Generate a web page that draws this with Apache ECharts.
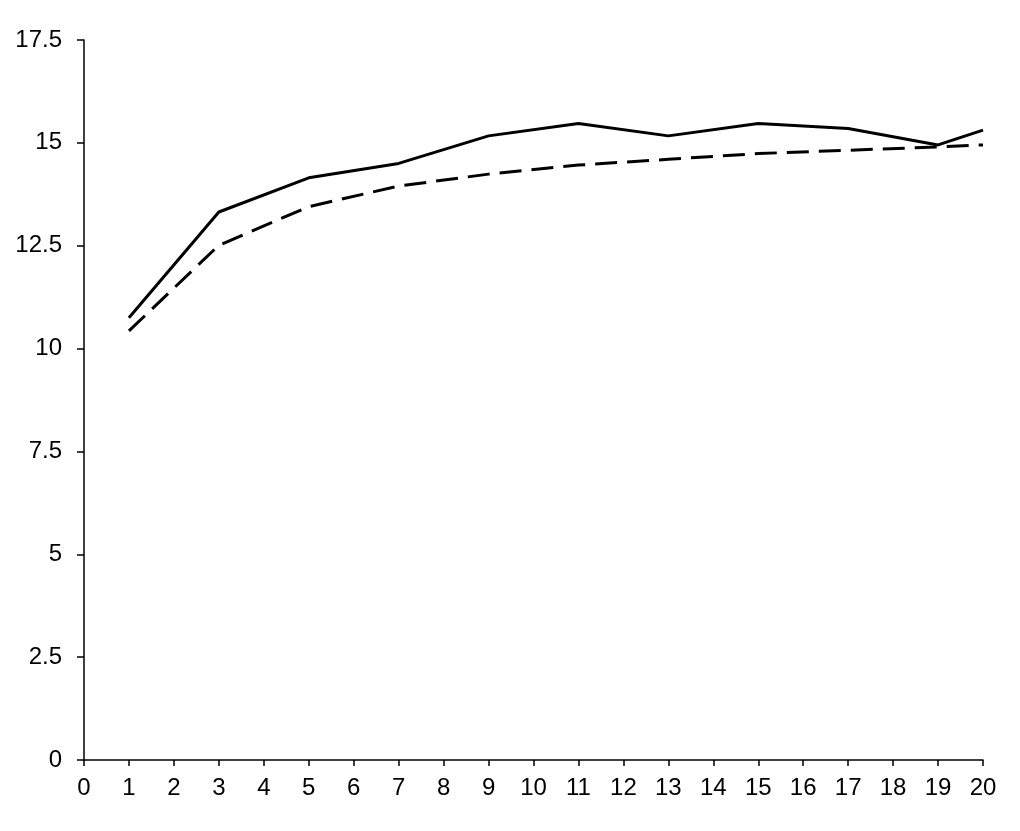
<!DOCTYPE html>
<html>
<head>
<meta charset="utf-8">
<script src="https://cdn.jsdelivr.net/npm/echarts@6/dist/echarts.min.js"></script>
<style>
html,body{margin:0;padding:0;background:#fff;}
#chart{width:1020px;height:831px;}
</style>
</head>
<body>
<div id="chart"></div>
<script>
const xValues = [1, 3, 5, 7, 9, 11, 13, 15, 17, 19, 20];
const solidValues = [10.75, 13.32, 14.15, 14.5, 15.17, 15.47, 15.17, 15.47, 15.35, 14.95, 15.31];
const dashedValues = [10.43, 12.51, 13.45, 13.95, 14.24, 14.46, 14.6, 14.74, 14.82, 14.9, 14.95];

const pairs = (ys) => xValues.map((x, i) => [x, ys[i]]);

const chart = echarts.init(document.getElementById('chart'), null, {renderer: 'canvas'});
const labelStyle = {color: '#000', fontFamily: 'Liberation Sans, Arial, sans-serif', fontSize: 24};
chart.setOption({
  animation: false,
  backgroundColor: '#fff',
  grid: {left: 84, right: 37, top: 40, bottom: 71, containLabel: false},
  xAxis: {
    type: 'value', min: 0, max: 20, interval: 1,
    axisLine: {show: true, onZero: false, lineStyle: {color: '#000', width: 1.5}},
    axisTick: {show: true, length: 6, lineStyle: {color: '#000', width: 1.5}},
    axisLabel: Object.assign({margin: 16}, labelStyle),
    splitLine: {show: false}
  },
  yAxis: {
    type: 'value', min: 0, max: 17.5, interval: 2.5,
    axisLine: {show: true, lineStyle: {color: '#000', width: 1.5}},
    axisTick: {show: true, length: 7, lineStyle: {color: '#000', width: 1.5}},
    axisLabel: Object.assign({margin: 22}, labelStyle),
    splitLine: {show: false}
  },
  series: [
    {
      type: 'line', data: pairs(solidValues), showSymbol: false, symbol: 'none',
      lineStyle: {color: '#000', width: 3}
    },
    {
      type: 'line', data: pairs(dashedValues), showSymbol: false, symbol: 'none',
      lineStyle: {color: '#000', width: 3, type: [22, 10]}
    }
  ]
});
</script>
</body>
</html>
